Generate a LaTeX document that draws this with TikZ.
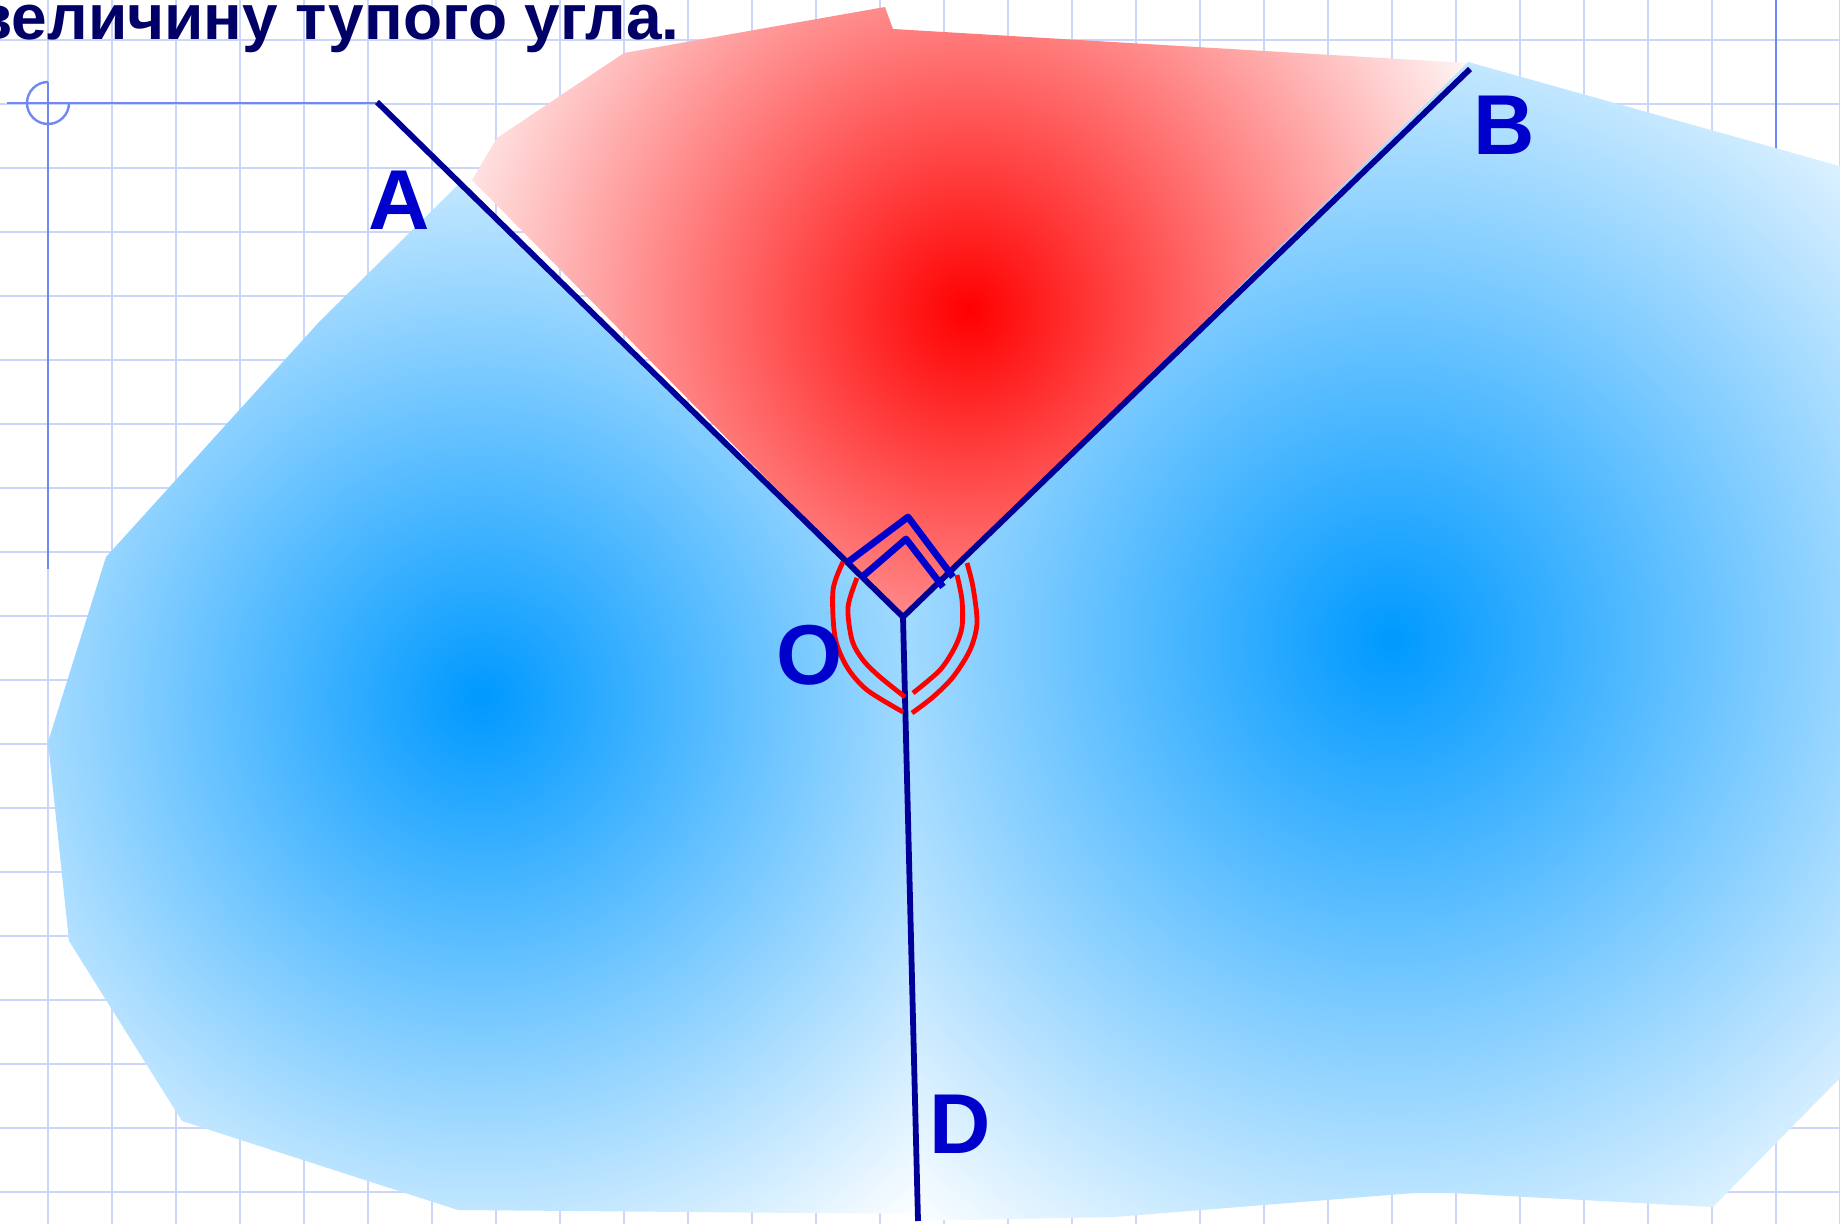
\documentclass[tikz,border=0pt]{standalone}
\usepackage{fontspec}
\setmainfont{Liberation Sans}
\usetikzlibrary{calc}
\definecolor{gridc}{RGB}{204,214,250}
\definecolor{axisc}{RGB}{112,136,240}
\definecolor{rayc}{RGB}{0,0,153}
\definecolor{lblc}{RGB}{0,0,204}
\definecolor{titlec}{RGB}{0,0,102}
\definecolor{skyb}{RGB}{0,153,255}

\begin{document}
\begin{tikzpicture}[x=0.5pt,y=-0.5pt,
  gridline/.style={gridc,line width=1.2pt},
  axisline/.style={axisc,line width=1.2pt},
  ray/.style={rayc,line width=2.9pt},
  lbl/.style={font=\fontsize{42.5}{50}\selectfont\bfseries,text=lblc,
              inner sep=0pt,anchor=base},
  ttl/.style={font=\fontsize{32}{38}\selectfont\bfseries,text=titlec,inner sep=0pt},
  sqmark/.style={lblc,line width=3.4pt,line join=round},
  arcmark/.style={red,line width=2.4pt}
]
\useasboundingbox (0,0) rectangle (1840,1224);
\clip (0,0) rectangle (1840,1224);
\fill[white] (0,0) rectangle (1840,1224);
\foreach \gx in {48,112,...,1840} \draw[gridline] (\gx,0) -- (\gx,1224);
\foreach \gy in {40,104,...,1200} \draw[gridline] (0,\gy) -- (1840,\gy);
\draw[axisline] (7,103) -- (376,103);
\draw[axisline] (48,82) -- (48,569);
\draw[axisline] (48,82) arc[start angle=270,end angle=0,radius=21];
\draw[axisline] (1776,0) -- (1776,300);

\coordinate (O) at (903,617);
\coordinate (A) at (377,102);
\coordinate (B) at (1470,69);
\coordinate (D) at (918,1221);

\begin{scope}
  \clip (460,183) -- (O) -- (917,1214) -- (458,1210) -- (182,1121) -- (69,941)
        -- (48,742) -- (106,557) -- (320,321) -- cycle;
  \shade[inner color=skyb,outer color=white] (481,698) circle (680);
\end{scope}
\begin{scope}
  \clip (1468,62) -- (1900,183) -- (1900,1017) -- (1713,1207) -- (1452,1193)
        -- (1414,1193) -- (1114,1217) -- (917,1221) -- (O) -- cycle;
  \shade[inner color=skyb,outer color=white] (1391,640) circle (760);
\end{scope}
\begin{scope}
  \clip (472,180) -- (497,138) -- (624,53) -- (885,7) -- (893,29) -- (1467,63)
        -- (O) -- cycle;
  \shade[inner color=red,outer color=white] (968,311) circle (580);
\end{scope}

\draw[ray] (O) -- (A);
\draw[ray] (O) -- (B);
\draw[ray] (O) -- (D);

\draw[sqmark] (848,562) -- (908,517) -- (953,577);
\draw[sqmark] (862,577) -- (906,539) -- (943,587);

\draw[arcmark] plot[smooth] coordinates {(843,562) (833,590) (835,637) (847,667) (867,690) (903,712)};
\draw[arcmark] plot[smooth] coordinates {(857,578) (848,607) (852,640) (863,660) (880,677) (905,697)};
\draw[arcmark] plot[smooth] coordinates {(967,563) (973,587) (977,623) (970,650) (953,677) (933,697) (912,713)};
\draw[arcmark] plot[smooth] coordinates {(957,575) (962,600) (962,627) (955,647) (940,670) (913,693)};

\node[lbl] (labA) at (399,230) {A};
\node[lbl] (labB) at (1504,155) {B};
\node[lbl] (labO) at (810,684) {O};
\node[lbl] (labD) at (960,1153) {D};

\node[ttl,anchor=base east] (title) at (680,40) {величину тупого угла.};
\end{tikzpicture}
\end{document}
